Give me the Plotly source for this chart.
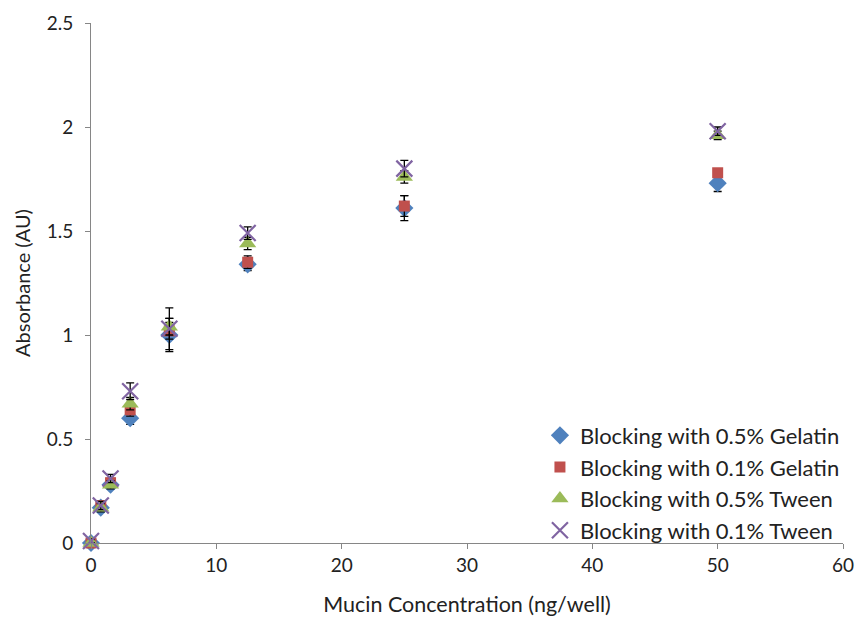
import plotly.graph_objects as go

conc = [0, 0.78, 1.56, 3.125, 6.25, 12.5, 25, 50]
gel05 = [0.00, 0.17, 0.28, 0.60, 1.00, 1.34, 1.61, 1.73]
gel05_err = [0.01, 0.02, 0.02, 0.03, 0.08, 0.03, 0.06, 0.04]
gel01 = [0.00, 0.18, 0.29, 0.64, 1.02, 1.35, 1.62, 1.78]
gel01_err = [0.01, 0.02, 0.02, 0.03, 0.04, 0.03, 0.05, 0.02]
tw05 = [0.00, 0.17, 0.28, 0.67, 1.04, 1.44, 1.76, 1.96]
tw05_err = [0.01, 0.02, 0.02, 0.03, 0.04, 0.03, 0.03, 0.02]
tw01 = [0.01, 0.18, 0.31, 0.73, 1.03, 1.49, 1.80, 1.98]
tw01_err = [0.01, 0.02, 0.02, 0.04, 0.10, 0.03, 0.04, 0.02]

names = ["Blocking with 0.5% Gelatin", "Blocking with 0.1% Gelatin",
         "Blocking with 0.5% Tween", "Blocking with 0.1% Tween"]
series = [gel05, gel01, tw05, tw01]
errs = [gel05_err, gel01_err, tw05_err, tw01_err]
colors = ["#4F81BD", "#C0504D", "#9BBB59", "#8064A2"]
symbols = ["diamond", "square", "triangle-up", "x-thin-open"]
sizes = [14, 11, 15, 16]

fig = go.Figure()
for n, s, e, c, sym, sz in zip(names, series, errs, colors, symbols, sizes):
    marker = dict(color=c, symbol=sym, size=sz)
    if sym == "x-thin-open":
        marker["line"] = dict(color=c, width=2.2)
    else:
        marker["line"] = dict(width=0)
    fig.add_trace(go.Scatter(
        x=conc, y=s, name=n, mode="markers", marker=marker, cliponaxis=False,
        error_y=dict(type="data", array=e, visible=True, color="black",
                     thickness=1.3, width=4)))

axis_common = dict(showline=True, linecolor="#868686", linewidth=1,
                   ticks="outside", tickcolor="#868686", ticklen=5,
                   showgrid=False, zeroline=False, automargin=False,
                   tickfont=dict(family="Lato", size=19, color="#222"))
fig.update_xaxes(range=[0, 60], dtick=10, **axis_common,
                 title=dict(text="Mucin Concentration (ng/well)",
                            font=dict(family="Lato", size=21.5, color="#222"),
                            standoff=22))
fig.update_yaxes(range=[0, 2.5], dtick=0.5, **axis_common,
                 ticklabelstandoff=8,
                 title=dict(text="Absorbance (AU)",
                            font=dict(family="Lato", size=20, color="#222"),
                            standoff=10))
fig.update_layout(
    width=858, height=623,
    margin=dict(l=91, r=15, t=23, b=80),
    plot_bgcolor="white", paper_bgcolor="white",
    legend=dict(x=0.597, y=0.247, xanchor="left", yanchor="top",
                font=dict(family="Lato", size=22, color="#222"),
                bgcolor="rgba(0,0,0,0)", itemwidth=30),
)
fig.write_html("out.html")
